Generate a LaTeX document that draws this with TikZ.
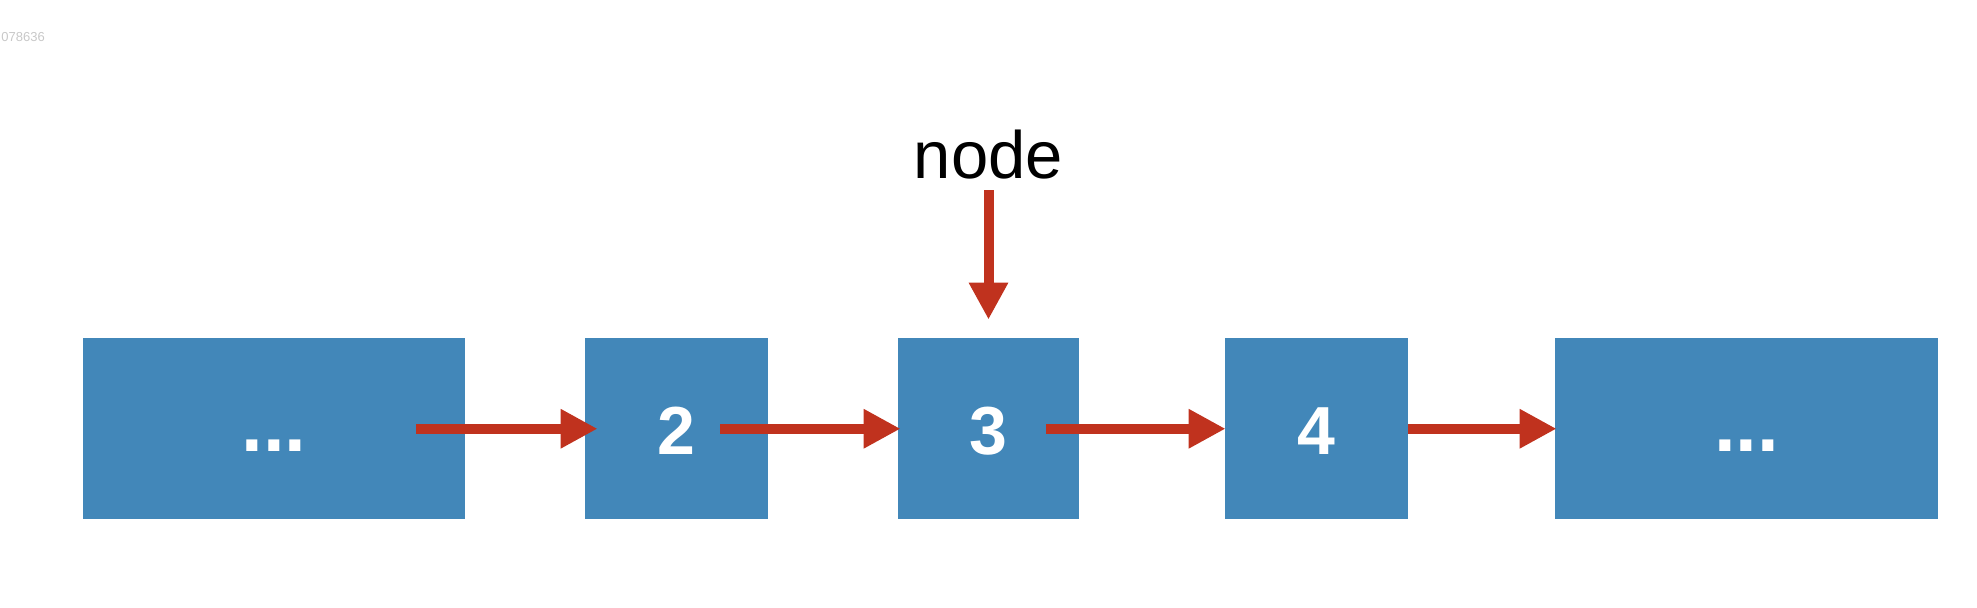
\documentclass[tikz,border=0pt]{standalone}
\usepackage{fontspec}
\newfontfamily\hv{Liberation Sans}
\usetikzlibrary{arrows.meta}
\definecolor{boxblue}{RGB}{66,135,185}
\definecolor{arrred}{RGB}{192,50,30}
\definecolor{tinygray}{RGB}{200,200,200}
\begin{document}
\begin{tikzpicture}[x=0.5pt,y=-0.5pt,
  listbox/.style={fill=boxblue, draw=none, inner sep=0pt, minimum height=90.75pt,
    text=white, font=\hv\bfseries\fontsize{34}{34}\selectfont, text height=26pt, text depth=0pt},
  dotsfont/.style={font=\hv\bfseries\fontsize{39}{39}\selectfont, text height=23pt},
  ptr/.style={draw=arrred, line width=5pt,
    -{Triangle[length=18.5pt,width=18.5pt]}, arrred}
]
\useasboundingbox (0,0) rectangle (1977,608);
\node[font=\hv\fontsize{6.5}{6.5}\selectfont, text=tinygray, anchor=base west, inner sep=0pt] (tag) at (1,42) {078636};

\node[listbox, minimum width=191pt, dotsfont] (b1) at (274,428.75) {...};
\node[listbox, minimum width=91.5pt] (b2) at (676.5,428.75) {2};
\node[listbox, minimum width=90.5pt] (b3) at (988.5,428.75) {3};
\node[listbox, minimum width=91.5pt] (b4) at (1316.5,428.75) {4};
\node[listbox, minimum width=191.5pt, dotsfont] (b5) at (1746.5,428.75) {...};

\node[font=\hv\fontsize{33.5}{33.5}\selectfont, anchor=base, inner sep=0pt] (lbl) at (988.5,179) {node};

\draw[ptr] ([xshift=-24.5pt]b1.east) -- ([xshift=6.5pt]b2.west);
\draw[ptr] ([xshift=-24pt]b2.east) -- ([xshift=1.5pt]b3.west);
\draw[ptr] ([xshift=-16.5pt]b3.east) -- ([xshift=0.5pt]b4.west);
\draw[ptr] (b4.east) -- ([xshift=1pt]b5.west);
\draw[ptr] ([yshift=-5pt]lbl.south) -- ([yshift=9pt]b3.north);
\end{tikzpicture}
\end{document}
